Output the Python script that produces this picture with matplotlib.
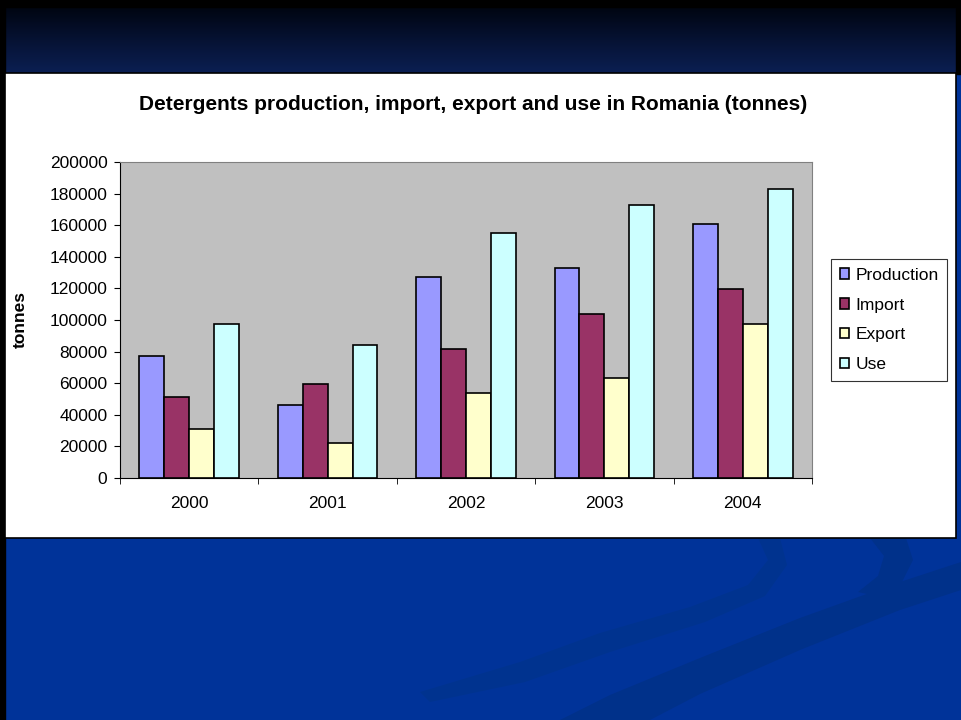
import numpy as np
import matplotlib.pyplot as plt
from matplotlib.patches import Rectangle, Polygon
from matplotlib.colors import LinearSegmentedColormap

plt.rcParams['font.family'] = ['Liberation Sans', 'DejaVu Sans']

# data
years = ['2000', '2001', '2002', '2003', '2004']
production = [77000, 46000, 127500, 133000, 161000]
imports = [51000, 59500, 81500, 103500, 119500]
exports = [31000, 22000, 54000, 63500, 97500]
use = [97500, 84000, 155000, 173000, 183000]
series_names = ['Production', 'Import', 'Export', 'Use']
colors = ['#9999FF', '#993366', '#FFFFCC', '#CCFFFF']
yticks = list(range(0, 200001, 20000))

W, H = 961, 720
fig = plt.figure(figsize=(W / 100, H / 100), dpi=100)

# slide background
bg = fig.add_axes([0, 0, 1, 1])
bg.set_xlim(0, W)
bg.set_ylim(H, 0)
bg.axis('off')
bg.add_patch(Rectangle((0, 0), W, H, color='#003399', zorder=0))

# dark gradient band on top
grad = np.linspace(0, 1, 100).reshape(-1, 1)
cmap = LinearSegmentedColormap.from_list('band', ['#000510', '#061233', '#0b1f52'])
bg.imshow(grad, extent=(0, W, 73, 6), cmap=cmap, aspect='auto', zorder=1)
bg.add_patch(Rectangle((0, 0), W, 7, color='black', zorder=2))

# darker swooshes on the blue part
def swoosh(upper, lower, color):
    pts = np.array(upper + lower[::-1])
    bg.add_patch(Polygon(pts, closed=True, color=color, lw=0, zorder=1))

swoosh([(758, 538), (768, 560), (748, 585), (690, 607), (600, 633), (520, 662), (420, 692)],
       [(780, 538), (787, 565), (765, 596), (705, 622), (610, 652), (525, 682), (430, 702)],
       '#00338f')
swoosh([(961, 562), (900, 582), (800, 618), (700, 658), (610, 695), (560, 720)],
       [(961, 590), (900, 610), (800, 650), (700, 694), (650, 720), (560, 720)],
       '#00318a')
swoosh([(870, 538), (884, 556), (878, 576), (858, 592)],
       [(906, 538), (913, 560), (902, 582), (885, 598)],
       '#00318a')
bg.add_patch(Rectangle((0, 0), 5, H, color='black', zorder=3))
bg.add_patch(Rectangle((956, 0), 5, 74, color='black', zorder=3))

# white chart panel
bg.add_patch(Rectangle((5, 73), 951, 465, facecolor='white', edgecolor='black', lw=1.2, zorder=3))

# chart
ax = fig.add_axes([120 / W, 1 - 478 / H, 692 / W, 316 / H])
ax.set_facecolor('#C0C0C0')
x = np.arange(len(years))
width = 0.18
all_series = [production, imports, exports, use]
for i, (vals, name, c) in enumerate(zip(all_series, series_names, colors)):
    ax.bar(x + (i - 1.5) * width, vals, width, color=c, edgecolor='black',
           linewidth=1.2, label=name, zorder=3)

fs = 12.5
ax.set_xlim(-0.5, len(years) - 0.5)
ax.set_ylim(0, 200000)
ax.set_yticks(yticks)
ax.set_yticklabels([str(v) for v in yticks], fontsize=fs)
ax.set_xticks(x)
ax.set_xticklabels(years, fontsize=fs)
ax.tick_params(axis='x', length=0, pad=13)
ax.set_xticks(np.arange(-0.5, len(years)), minor=True)
ax.tick_params(axis='x', which='minor', length=4, direction='out')
ax.tick_params(axis='y', length=4, direction='out', pad=5)
for s in ['top', 'right']:
    ax.spines[s].set_color('#808080')
ax.spines['left'].set_color('black')
ax.spines['bottom'].set_color('black')

ax.set_ylabel('tonnes', fontsize=fs, fontweight='bold')
ax.yaxis.set_label_coords((28 - 120) / 692, 0.5)
fig.text(473 / W, 1 - 104 / H, 'Detergents production, import, export and use in Romania (tonnes)',
         ha='center', va='center', fontsize=15, fontweight='bold')

leg = ax.legend(loc='center left', bbox_to_anchor=((831 - 120) / 692, 0.5), fontsize=fs,
                frameon=True, fancybox=False, edgecolor='black', handlelength=0.55,
                handleheight=0.55, handletextpad=0.35, labelspacing=0.85, borderpad=0.5,
                borderaxespad=0)
leg.get_frame().set_linewidth(0.8)

fig.savefig('out.png', dpi=100)
